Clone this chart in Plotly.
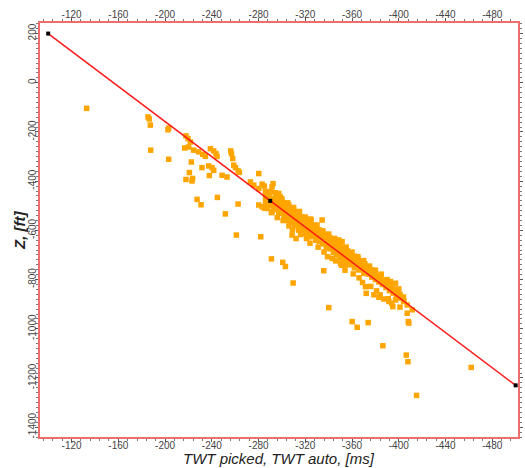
import plotly.graph_objects as go

# Picked/auto TWT (ms) against depth Z (ft)
twt = [
    -132.9, -185.4, -186.5, -187.4, -203.1, -202.5, -187.7, -203.1,
    -217.9, -219.6, -221.6, -216.8, -220.2, -224.5, -228.8, -232.2, -234.5,
    -238.8, -241.6, -243.6, -244.5, -256.2, -256.8, -257.9, -258.8, -260.2,
    -262.5, -263.6, -222.5, -220.8, -217.9, -223.1, -223.6, -231.6, -237.3,
    -240.2, -241.6, -237.9, -248.8, -253.0, -244.8, -227.4, -230.8, -251.6,
    -262.5, -261.0, -281.9, -280.2,
    -273.0, -275.9, -280.2, -283.0, -292.4, -291.6, -285.9, -294.4, -297.3,
    -298.7, -295.9, -300.2, -303.0, -305.9, -280.2, -283.0, -287.3, -291.6,
    -297.3, -301.6, -305.9, -310.1, -313.0, -314.4, -317.3, -320.1, -323.0,
    -325.9, -324.7, -334.4, -308.7, -312.1, -314.4, -318.7, -323.0, -328.7,
    -331.6, -335.8, -340.1, -343.0, -345.8, -348.7, -351.5, -348.7, -354.4,
    -357.3, -360.1, -363.0, -365.8, -368.7, -371.5, -374.4, -377.2, -365.8,
    -370.1, -343.0, -350.1, -354.4, -335.8, -384.4, -386.4, -392.9, -397.2,
    -395.8, -398.7, -371.5, -372.1, -378.7, -383.0, -387.2, -391.5, -397.2,
    -401.5, -404.4, -407.2, -411.5, -394.9, -407.2, -408.1, -408.6, -340.1,
    -360.1, -364.4, -373.8, -291.0, -300.7, -303.0, -309.6, -386.4, -406.4,
    -407.8, -415.2, -462.0,
    -286, -286, -286, -289, -289, -289, -293, -293, -293, -296, -296, -296,
    -299, -299, -299, -302, -302, -302, -305, -305, -305, -305,
    -308, -308, -308, -308, -311, -311, -311, -311, -314, -314, -314, -314,
    -317, -317, -317, -317, -320, -320, -320, -320, -323, -323, -323, -323,
    -326, -326, -326, -326, -329, -329, -329, -329, -332, -332, -332, -332,
    -335, -335, -335, -335, -338, -338, -338, -338, -341, -341, -341, -341,
    -344, -344, -344, -344, -347, -347, -347, -347, -350, -350, -350, -350,
    -353, -353, -353, -353, -356, -356, -356, -356, -359, -359, -359, -359,
    -362, -362, -362, -362, -365, -365, -365, -368, -368, -368,
    -371, -371, -371, -374, -374, -374, -377, -377, -377, -380, -380, -380,
    -383, -383, -386, -386, -389, -389, -392, -392, -395, -395,
    -398, -398, -401, -401, -404, -404,
    -285, -285, -290, -291, -295, -296, -300, -301, -305, -306, -310, -309,
    -315, -316, -320, -321, -325, -324, -330, -331, -335, -336, -340, -339,
    -345, -346, -350, -351, -355, -354, -360, -361, -365, -366, -370, -369,
    -375, -376, -380, -381, -385, -384, -390, -391, -395, -394, -400, -401,
]
depth = [
    -104, -139, -147, -172, -184, -191, -274, -311,
    -216, -227, -241, -265, -261, -274, -281, -291, -299,
    -268, -277, -288, -299, -277, -288, -308, -335, -345,
    -358, -364, -322, -365, -393, -399, -389, -345, -338,
    -345, -356, -377, -376, -383, -466, -474, -496, -533,
    -493, -619, -626, -369,
    -403, -416, -430, -412, -410, -423, -443, -447, -450,
    -464, -477, -484, -491, -497, -497, -504, -511, -525,
    -531, -547, -542, -518, -525, -538, -552, -561, -572,
    -583, -554, -558, -619, -633, -599, -612, -626, -610,
    -633, -646, -653, -666, -680, -639, -646, -693, -707,
    -721, -707, -727, -741, -748, -761, -775, -785, -761,
    -775, -714, -734, -741, -764, -785, -802, -808, -815,
    -842, -856, -829, -856, -862, -872, -879, -889, -883,
    -869, -889, -903, -923, -910, -937, -971, -977, -914,
    -971, -994, -975, -716, -730, -747, -814, -1069, -1107,
    -1134, -1271, -1157,
    -470, -490, -455, -478, -500, -462, -486, -470, -505, -495, -515, -478,
    -505, -488, -525, -512, -530, -497, -522, -540, -505, -560,
    -532, -515, -550, -570, -543, -525, -562, -580, -552, -570, -535, -590,
    -562, -545, -580, -600, -573, -590, -556, -605, -583, -600, -566, -615,
    -594, -578, -610, -625, -603, -620, -588, -640, -614, -630, -598, -645,
    -625, -610, -642, -655, -636, -620, -652, -668, -646, -630, -662, -675,
    -657, -640, -672, -690, -668, -650, -685, -700, -678, -662, -695, -712,
    -688, -672, -705, -720, -699, -683, -715, -728, -710, -694, -726, -740,
    -720, -705, -737, -752, -730, -715, -745, -741, -725, -757,
    -752, -736, -768, -762, -778, -748, -773, -790, -760, -784, -800, -770,
    -795, -810, -805, -820, -816, -832, -827, -845, -838, -855,
    -849, -865, -860, -875, -871, -885,
    -420, -510, -442, -528, -455, -548, -472, -560, -488, -582, -507, -598,
    -523, -617, -546, -633, -560, -652, -578, -668, -602, -688, -615, -707,
    -633, -724, -652, -742, -668, -762, -688, -777, -707, -793, -723, -812,
    -745, -828, -762, -846, -778, -862, -800, -878, -818, -897, -838, -912,
]

# Fitted trend line with its control points
fit_twt = [-100, -290, -500]
fit_depth = [200, -480, -1230]

x_ticks = [-120, -160, -200, -240, -280, -320, -360, -400, -440, -480]
y_ticks = [200, 0, -200, -400, -600, -800, -1000, -1200, -1400]

x_title = "TWT picked, TWT auto, [ms]"
y_title = "Z, [ft]"

x_range = [-93, -502]
y_range = [-1440, 243]
axis_red = "rgb(238,110,110)"
font_family = "Liberation Sans, Arial, sans-serif"
tick_font = dict(family=font_family, size=10, color="#444")

fig = go.Figure()
fig.add_trace(go.Scatter(
    x=twt, y=depth, mode="markers",
    marker=dict(symbol="square", size=5.5, color="#FFA500", line=dict(width=0)),
    showlegend=False,
))
fig.add_trace(go.Scatter(
    x=fit_twt, y=fit_depth, mode="lines+markers",
    line=dict(color="#FF1A1A", width=1.5),
    marker=dict(symbol="square", size=4, color="black"),
    showlegend=False,
))


def x_axis(standoff):
    return dict(
        range=x_range, tickmode="array", tickvals=x_ticks,
        ticktext=[str(v) for v in x_ticks], ticks="outside", ticklen=3,
        tickcolor="#555", tickwidth=1, showline=True, linecolor=axis_red,
        linewidth=1.5, showgrid=False, zeroline=False, tickfont=tick_font,
        ticklabelstandoff=standoff,
        minor=dict(dtick=8, tick0=0, ticklen=2, tickcolor="#777", ticks="outside",
                   showgrid=False),
    )


def y_axis(standoff):
    return dict(
        range=y_range, tickmode="array", tickvals=y_ticks,
        ticktext=[str(v) for v in y_ticks], ticks="outside", ticklen=3,
        tickcolor="#555", tickwidth=1, showline=True, linecolor=axis_red,
        linewidth=1.5, showgrid=False, zeroline=False, tickfont=tick_font,
        tickangle=-90, ticklabelstandoff=standoff,
        minor=dict(dtick=20, tick0=0, ticklen=2, tickcolor="#777", ticks="outside",
                   showgrid=False),
    )


fig.update_layout(
    width=525, height=468,
    margin=dict(l=40, r=7, t=23, b=31, autoexpand=False),
    paper_bgcolor="white", plot_bgcolor="white",
    xaxis=x_axis(-5),
    xaxis2=dict(**x_axis(-4), overlaying="x", side="top", matches="x", anchor="y"),
    yaxis=y_axis(-5),
    yaxis2=dict(**y_axis(-1), overlaying="y", side="right", matches="y", anchor="x"),
    annotations=[
        dict(text=f"<i>{x_title}</i>", xref="paper", yref="paper",
             x=0.5, y=-0.052, xanchor="center", yanchor="middle", showarrow=False,
             font=dict(family=font_family, size=15, color="#222")),
        dict(text=f"<i><b>{y_title}</b></i>", xref="paper", yref="paper",
             x=-0.044, y=0.5, xanchor="center", yanchor="middle", showarrow=False,
             textangle=-90, font=dict(family=font_family, size=15, color="#222")),
    ],
)
# Invisible trace so the top/right axes are drawn
fig.add_trace(go.Scatter(x=[None], y=[None], xaxis="x2", yaxis="y2", showlegend=False))

fig.write_html("out.html")
